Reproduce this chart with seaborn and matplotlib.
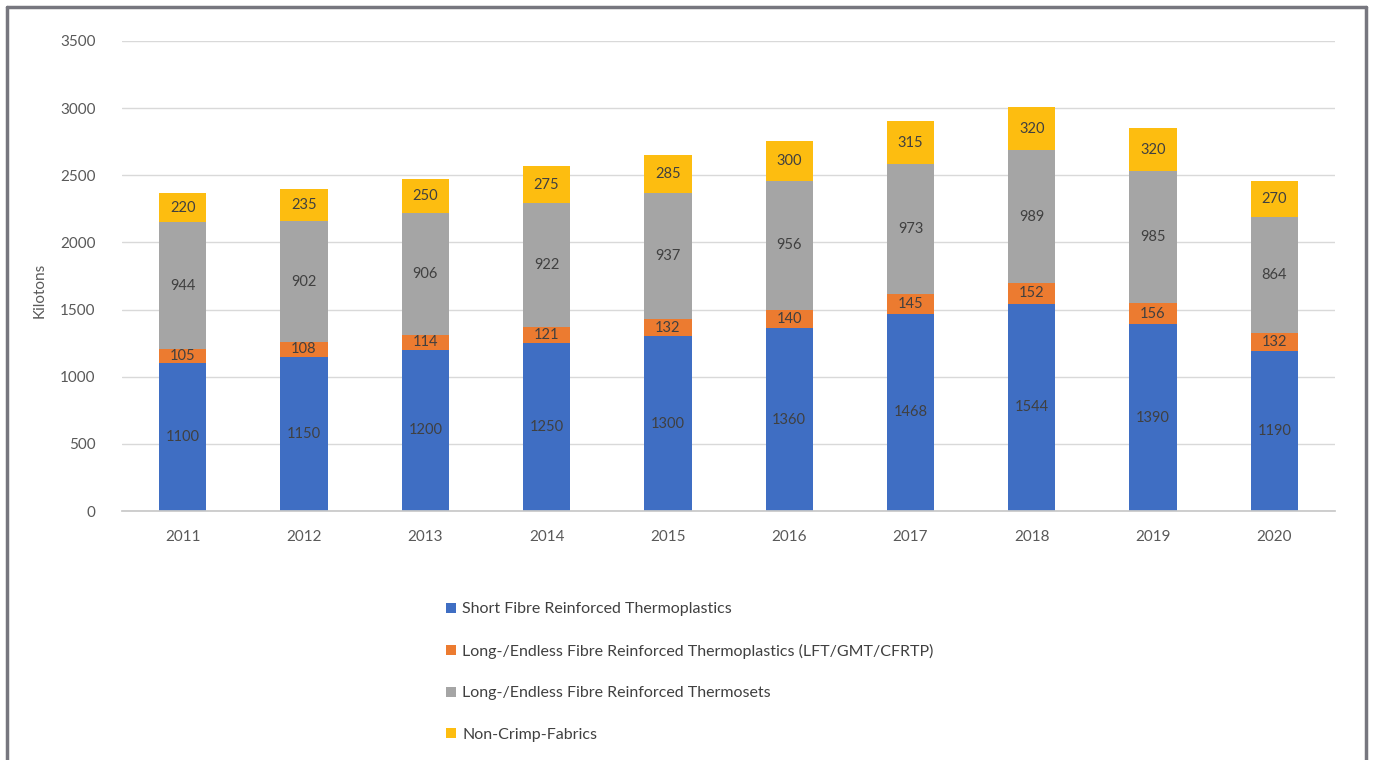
import numpy as np
import pandas as pd
import matplotlib
matplotlib.use("Agg")
from matplotlib import pyplot as plt
from matplotlib.lines import Line2D
from matplotlib.patches import Patch
import seaborn as sns

years = ['2011', '2012', '2013', '2014', '2015', '2016', '2017', '2018', '2019', '2020']
short_fibre = [1100, 1150, 1200, 1250, 1300, 1360, 1468, 1544, 1390, 1190]
long_thermoplastics = [105, 108, 114, 121, 132, 140, 145, 152, 156, 132]
long_thermosets = [944, 902, 906, 922, 937, 956, 973, 989, 985, 864]
non_crimp = [220, 235, 250, 275, 285, 300, 315, 320, 320, 270]

series_names = ['Short Fibre Reinforced Thermoplastics',
                'Long-/Endless Fibre Reinforced Thermoplastics (LFT/GMT/CFRTP)',
                'Long-/Endless Fibre Reinforced Thermosets',
                'Non-Crimp-Fabrics']
colors = ['#3f6ec3', '#ec7b30', '#a5a5a5', '#fdbd10']

sns.set_theme(style="white")
plt.rcParams['font.family'] = ['Lato', 'DejaVu Sans']

df = pd.DataFrame({'year': years, series_names[0]: short_fibre,
                   series_names[1]: long_thermoplastics,
                   series_names[2]: long_thermosets,
                   series_names[3]: non_crimp})

fig = plt.figure(figsize=(13.73, 7.6), dpi=100)
ax = fig.add_axes([0.0889, 0.3276, 0.8834, 0.6185])

bottom = np.zeros(len(years))
for name, c in zip(series_names, colors):
    sns.barplot(data=df, x='year', y=name, color=c, width=0.39, bottom=bottom,
                ax=ax, saturation=1, errorbar=None, linewidth=0)
    ax.bar_label(ax.containers[-1], label_type='center', fontsize=10.5, color='#404040')
    bottom = bottom + df[name].values

ax.set_ylim(0, 3500)
ax.set_xlim(-0.5, 9.5)
ax.set_yticks(range(0, 3501, 500))
ax.yaxis.grid(True, color='#d9d9d9', lw=1)
ax.set_axisbelow(True)
for s in ['top', 'right', 'left']:
    ax.spines[s].set_visible(False)
ax.spines['bottom'].set_color('#c8c8c8')
ax.tick_params(axis='y', length=0, pad=19, labelsize=11, labelcolor='#595959')
ax.tick_params(axis='x', length=0, pad=14, labelsize=11, labelcolor='#595959')
ax.set_xlabel('')
ax.set_ylabel('')
fig.text(40 / 1373, 1 - 290 / 760, 'Kilotons', rotation=90, ha='center', va='center',
         fontsize=11, color='#595959')

handles = [Patch(facecolor=c, edgecolor='none') for c in colors]
fig.legend(handles, series_names, loc='upper left', bbox_to_anchor=(432 / 1373, 1 - 588 / 760),
           frameon=False, fontsize=11.5, labelspacing=1.72, handlelength=0.6, handleheight=0.6,
           handletextpad=0.4, labelcolor='#404040')

# frame around the figure
bc = '#77777f'
fig.add_artist(Line2D([7 / 1373, 7 / 1373], [0, 1 - 7 / 760], color=bc, lw=2.5))
fig.add_artist(Line2D([1366 / 1373, 1366 / 1373], [0, 1 - 7 / 760], color=bc, lw=2.5))
fig.add_artist(Line2D([7 / 1373, 1366 / 1373], [1 - 7 / 760, 1 - 7 / 760], color=bc, lw=2.5))

fig.savefig('out.png', dpi=100)
